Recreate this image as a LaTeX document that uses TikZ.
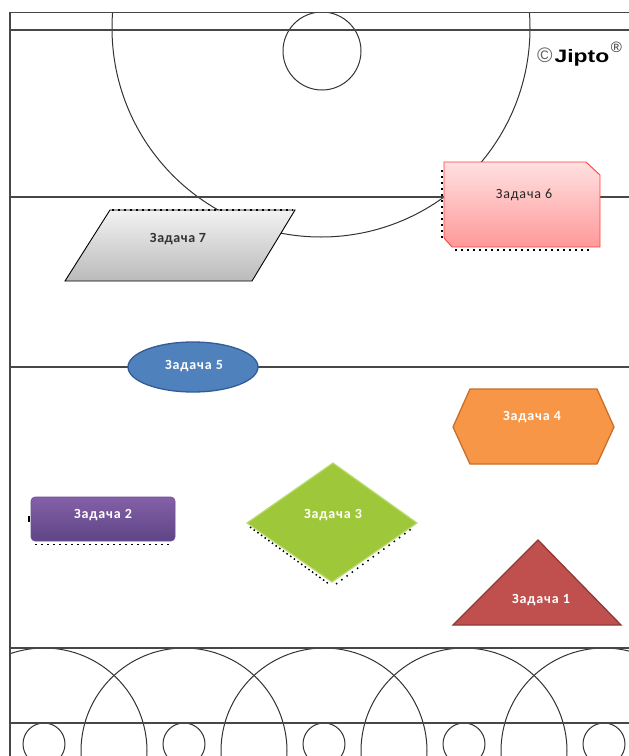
\documentclass[tikz,border=0pt]{standalone}
\usepackage{fontspec}
\usepackage{graphicx}
\setmainfont{Carlito}
\newfontfamily\markfont{Liberation Sans}
\begin{document}
\begin{tikzpicture}[x=1pt,y=1pt,
  frameline/.style={draw=black!72,line width=1.3pt},
  ring/.style={draw=black!80,line width=1pt},
  lightlabel/.style={font=\fontsize{14}{15}\selectfont\bfseries\addfontfeature{LetterSpace=6}, text=white, inner sep=0pt},
  darklabel/.style={font=\fontsize{14}{15}\selectfont\addfontfeature{LetterSpace=6}, text=black!85, inner sep=0pt},
  selmark/.style={draw=black,line width=1.4pt,dash pattern=on 2pt off 4pt}]

\useasboundingbox (0,0) rectangle (629,-756);
\fill[white] (0,0) rectangle (629,-756);

% circles of the background, kept inside the frame
\begin{scope}
  \clip (10,-12.5) rectangle (629,-756);
  \draw[ring] (321,-28) circle[radius=209];
  \draw[ring] (322,-51) circle[radius=39];
  \foreach \cx in {44,184,324,464,604}{
    \draw[ring] (\cx,-751) circle[radius=103];
    \draw[ring] (\cx,-744) circle[radius=21];
  }
\end{scope}

% frame and horizontal bands
\draw[frameline] (10,-756) -- (10,-12.5) -- (629,-12.5);
\foreach \yy in {30,197,367,648,723}{
  \draw[frameline] (10,-\yy) -- (629,-\yy);
}

% copyright mark
\node[inner sep=0pt, anchor=base west] (mark) at (537,-62)
  {\markfont{\fontsize{21}{21}\selectfont\color{black!60}©}\hspace{2pt}\scalebox{1.27}[1]{\fontsize{18}{18}\selectfont\bfseries Jipto}\hspace{1.5pt}\raisebox{10pt}{\fontsize{15}{15}\selectfont\color{black!80}®}};

% task 6: snipped rectangle
\shade[top color=red!12, bottom color=red!40!white, draw=red!75!white, line width=0.9pt]
  (444,-162) -- (586,-162) -- (600,-175) -- (600,-247) -- (452,-247) -- (444,-238) -- cycle;
\draw[selmark] (442,-170) -- (442,-240);
\draw[selmark] (455,-250) -- (592,-250);
\node[darklabel] (t6) at (524,-195) {Задача 6};

% task 7: parallelogram
\shade[top color=black!5, bottom color=black!27, draw=black, line width=0.9pt]
  (110,-210) -- (295,-210) -- (252,-281) -- (65,-281) -- cycle;
\draw[selmark] (112,-210) -- (293,-210);
\node[darklabel, font=\fontsize{14}{15}\selectfont\bfseries\addfontfeature{LetterSpace=4}, text=black!80] (t7) at (178,-239) {Задача 7};

% task 5: ellipse
\fill[fill={rgb,255:red,79;green,129;blue,189}, draw={rgb,255:red,50;green,92;blue,150}, line width=1.3pt]
  (193,-367) ellipse[x radius=65, y radius=25];
\node[lightlabel] (t5) at (194,-366) {Задача 5};

% task 4: hexagon
\fill[fill={rgb,255:red,247;green,150;blue,70}, draw={rgb,255:red,200;green,112;blue,42}, line width=1.3pt]
  (470,-389) -- (597,-389) -- (614,-427) -- (597,-464) -- (470,-464) -- (453,-427) -- cycle;
\node[lightlabel] (t4) at (532,-417) {Задача 4};

% task 2: rounded rectangle
\draw[selmark] (35,-544.5) -- (172,-544.5);
\draw[black, line width=1.4pt] (29,-516) -- (29,-522);
\shade[rounded corners=4pt, top color={rgb,255:red,132;green,96;blue,168}, bottom color={rgb,255:red,94;green,69;blue,133}, draw={rgb,255:red,110;green,80;blue,150}, line width=0.6pt]
  (31,-497) rectangle (175,-541);
\node[lightlabel] (t2) at (103,-515) {Задача 2};

% task 3: diamond
\draw[black, line width=1.5pt, dash pattern=on 1.5pt off 3pt] (250,-527) -- (329,-584);
\draw[black, line width=1.5pt, dash pattern=on 1.5pt off 5pt] (336,-584) -- (414,-527);
\fill[fill={rgb,255:red,158;green,200;blue,58}, draw={rgb,255:red,185;green,220;blue,110}, line width=1.2pt]
  (247,-523) -- (333,-463) -- (417,-523) -- (332,-582) -- cycle;
\node[lightlabel] (t3) at (333,-515) {Задача 3};

% task 1: triangle
\fill[fill={rgb,255:red,192;green,80;blue,77}, draw={rgb,255:red,142;green,59;blue,56}, line width=1.3pt]
  (538,-540) -- (621,-625) -- (453,-625) -- cycle;
\node[lightlabel] (t1) at (541,-600) {Задача 1};
\end{tikzpicture}
\end{document}
